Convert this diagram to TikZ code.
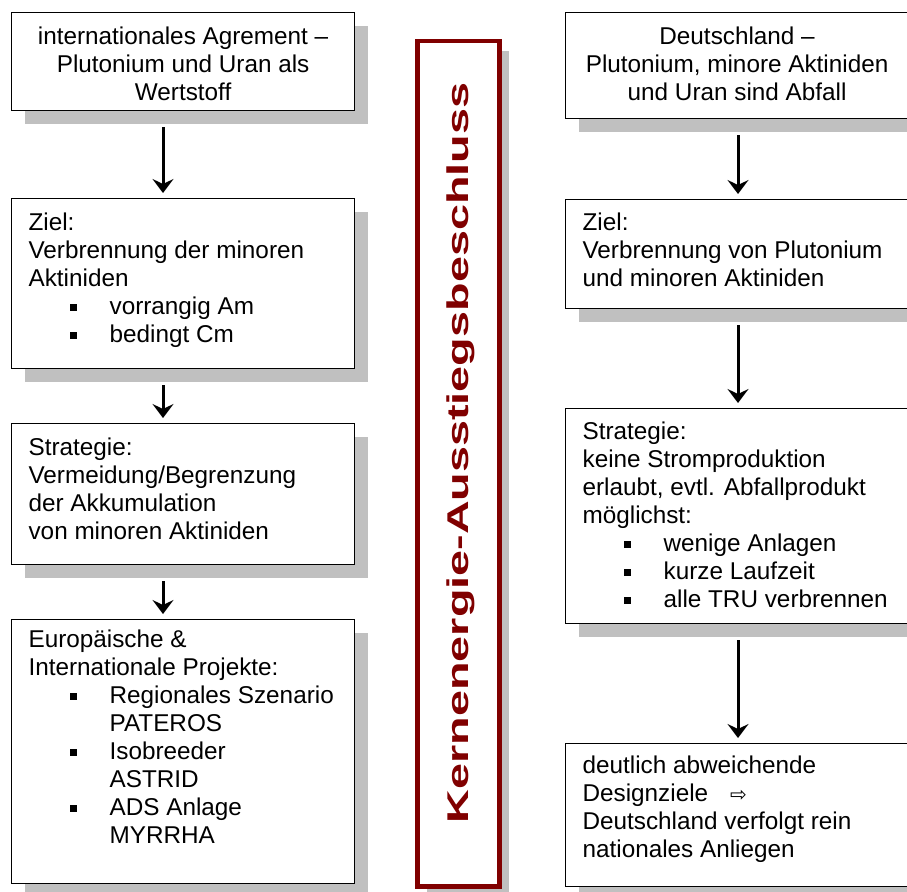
\documentclass[tikz,border=0pt]{standalone}
\usepackage{fontspec}
\setmainfont{Liberation Sans}
\newfontfamily\symfont{DejaVu Sans}
\usetikzlibrary{arrows.meta,shadows}
\definecolor{darkred}{RGB}{128,0,0}
\definecolor{shadowgray}{RGB}{192,192,192}
\newcommand\bul{\hspace*{41pt}\makebox[40pt][l]{\rule[3.5pt]{7pt}{7pt}}}
\newcommand\cont{\hspace*{81pt}}
% #1 height, #2 first-baseline offset, #3 text
\newcommand\lbox[3]{\parbox[c][#1][t]{343pt}{\raggedright\leftskip=17pt\rule{0pt}{#2}\ignorespaces#3}}
\newcommand\cbox[3]{\parbox[c][#1][t]{343pt}{\centering\rule{0pt}{#2}\ignorespaces#3}}
\tikzset{
  flowbox/.style={draw=black, line width=1.2pt, fill=white, inner sep=0pt,
    anchor=north west,
    font=\fontsize{24.3pt}{28pt}\selectfont,
    drop shadow={shadow xshift=13pt, shadow yshift=-13pt, fill=shadowgray, opacity=1}},
  flowarrow/.style={line width=3pt, -{Stealth[length=14pt,width=21pt,inset=5pt]},
    shorten <=16pt, shorten >=5pt},
}
\begin{document}
\begin{tikzpicture}[x=1pt,y=1pt]
\useasboundingbox (0,0) rectangle (907,-891);
\fill[white] (0,0) rectangle (907,-891);

% left column
\node[flowbox] (L1) at (11,-12) {\cbox{98pt}{32pt}{internationales Agrement --\\Plutonium und Uran als\\Wertstoff}};
\node[flowbox] (L2) at (11,-198) {\lbox{170pt}{32pt}{Ziel:\\Verbrennung der minoren\\Aktiniden\\\bul vorrangig Am\\\bul bedingt Cm}};
\node[flowbox] (L3) at (11,-423) {\lbox{141pt}{32pt}{Strategie:\\Vermeidung/Begrenzung\\der Akkumulation\\von minoren Aktiniden}};
\node[flowbox] (L4) at (11,-619) {\lbox{264pt}{28pt}{Europäische \&\\Internationale Projekte:\\\bul Regionales Szenario\\\cont PATEROS\\\bul Isobreeder\\\cont ASTRID\\\bul ADS Anlage\\\cont MYRRHA}};

% right column
\node[flowbox] (R1) at (565,-12) {\cbox{106pt}{32pt}{Deutschland --\\Plutonium, minore Aktiniden\\und Uran sind Abfall}};
\node[flowbox] (R2) at (565,-199) {\lbox{109pt}{31pt}{Ziel:\\Verbrennung von Plutonium\\und minoren Aktiniden}};
\node[flowbox] (R3) at (565,-408) {\lbox{215pt}{31pt}{Strategie:\\keine Stromproduktion\\erlaubt, evtl. Abfallprodukt\\möglichst:\\\bul wenige Anlagen\\\bul kurze Laufzeit\\\bul alle TRU verbrennen}};
\node[flowbox] (R4) at (565,-743) {\lbox{143pt}{30pt}{deutlich abweichende\\Designziele\hspace{22pt}{\symfont\fontsize{20pt}{20pt}\selectfont ⇨}\\Deutschland verfolgt rein\\nationales Anliegen}};

% central banner
\node[draw=darkred, line width=4.5pt, fill=white, inner sep=0pt, anchor=north west,
  minimum width=82pt, minimum height=845pt,
  drop shadow={shadow xshift=10pt, shadow yshift=-10pt, fill=shadowgray, opacity=1}]
  (banner) at (415,-39) {};
\node[rotate=90, anchor=base, text=darkred, inner sep=0pt,
  font=\bfseries\fontsize{30pt}{30pt}\selectfont] (title) at (468,-453)
  {\scalebox{1.558}[1]{Kernenergie-Ausstiegsbeschluss}};

% arrows
\coordinate (cL) at (163,0);
\coordinate (cR) at (738,0);
\draw[flowarrow] (L1.south -| cL) -- (L2.north -| cL);
\draw[flowarrow] (L2.south -| cL) -- (L3.north -| cL);
\draw[flowarrow] (L3.south -| cL) -- (L4.north -| cL);
\draw[flowarrow] (R1.south -| cR) -- (R2.north -| cR);
\draw[flowarrow] (R2.south -| cR) -- (R3.north -| cR);
\draw[flowarrow] (R3.south -| cR) -- (R4.north -| cR);
\end{tikzpicture}
\end{document}
